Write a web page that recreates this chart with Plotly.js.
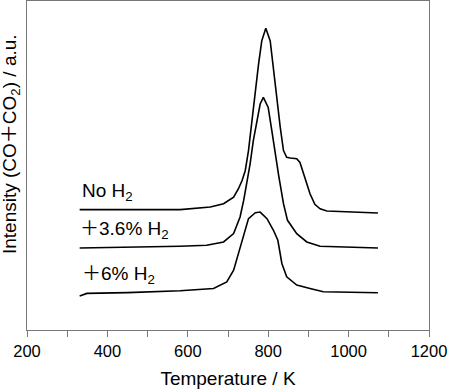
<!DOCTYPE html>
<html>
<head>
<meta charset="utf-8">
<script src="https://cdn.plot.ly/plotly-3.0.1.min.js"></script>
<style>html,body{margin:0;padding:0;background:#fff;}#chart{width:450px;height:392px;}</style>
</head>
<body>
<div id="chart"></div>
<script>
// Temperature (K) and intensity (a.u., offset stacked)
const tempNoH2 = [331, 450, 581, 656, 689, 714, 726, 735, 743, 751, 759, 768, 776, 784, 794, 805, 813, 822, 830, 838, 846, 855, 871, 879, 888, 896, 904, 916, 929, 946, 1000, 1073];
const intNoH2  = [120.7, 121, 120.7, 123.3, 126.7, 133.3, 141.7, 150, 160, 180, 210, 240, 266.7, 290, 302.7, 290, 260, 230, 203.3, 180, 173.3, 172.5, 171.7, 168, 156.7, 146.7, 136.7, 126, 121.5, 119.3, 118.5, 117.3];

const temp36 = [331, 450, 581, 647, 689, 714, 730, 739, 747, 755, 763, 772, 780, 788, 800, 809, 817, 826, 838, 848, 871, 896, 929, 1000, 1073];
const int36  = [82.3, 83, 84, 85, 88.3, 96.7, 113.3, 130, 148, 166.7, 190, 210, 226.7, 233.3, 223.3, 200, 178, 155, 126.7, 110, 96.7, 88.3, 84, 83, 82.3];

const temp6 = [331, 349, 450, 581, 664, 697, 714, 726, 739, 751, 768, 780, 797, 813, 824, 834, 846, 871, 904, 937, 1073];
const int6  = [34, 36.7, 37.5, 39.3, 41.7, 48.3, 60, 76.7, 96.7, 111.7, 117.7, 118.3, 111.7, 100, 90, 66.7, 53.3, 45, 41.7, 38.3, 37.3];

const seriesLabels = ['No H<sub>2</sub>', '＋3.6% H<sub>2</sub>', '＋6% H<sub>2</sub>'];
const labelX = [333, 326, 333];
const labelY = [138.5, 100, 55];

const xTickVals = [200, 400, 600, 800, 1000, 1200];
const xTickText = ['200', '400', '600', '800', '1000', '1200'];

const FONT = 'Liberation Sans, Arial, Noto Sans CJK JP, sans-serif';
const lineStyle = {color: '#000', width: 1.6};

const traces = [
  {x: tempNoH2, y: intNoH2, mode: 'lines', line: lineStyle, hoverinfo: 'skip'},
  {x: temp36, y: int36, mode: 'lines', line: lineStyle, hoverinfo: 'skip'},
  {x: temp6, y: int6, mode: 'lines', line: lineStyle, hoverinfo: 'skip'}
];

const annotations = seriesLabels.map((t, i) => ({
  x: labelX[i], y: labelY[i], xref: 'x', yref: 'y', text: t, showarrow: false,
  xanchor: 'left', yanchor: 'middle', font: {family: FONT, size: 19, color: '#000'}
}));
annotations.push({
  x: -0.04, y: 0.565, xref: 'paper', yref: 'paper', textangle: -90,
  text: 'Intensity (CO＋CO<sub>2</sub>) / a.u.', showarrow: false,
  xanchor: 'center', yanchor: 'middle', font: {family: FONT, size: 19, color: '#000'}
});

const layout = {
  width: 450, height: 392,
  margin: {l: 27, r: 21, t: 1, b: 62},
  paper_bgcolor: '#fff', plot_bgcolor: '#fff',
  showlegend: false,
  font: {family: FONT, size: 16.5, color: '#000'},
  xaxis: {
    range: [200, 1200], tickmode: 'array', tickvals: xTickVals, ticktext: xTickText,
    ticks: 'outside', ticklen: 6, tickcolor: '#777', tickwidth: 1,
    minor: {dtick: 100, ticks: 'outside', ticklen: 6, tickcolor: '#777', tickwidth: 1, showgrid: false},
    showline: true, linecolor: '#777', linewidth: 1.2, mirror: true,
    showgrid: false, zeroline: false,
    tickfont: {family: FONT, size: 16.5, color: '#000'},
    title: {text: 'Temperature / K', font: {family: FONT, size: 19, color: '#000'}, standoff: 12}
  },
  yaxis: {
    range: [0, 330], showticklabels: false, ticks: '',
    showline: true, linecolor: '#777', linewidth: 1.2, mirror: true,
    showgrid: false, zeroline: false
  },
  annotations: annotations
};

Plotly.newPlot('chart', traces, layout, {staticPlot: true, displayModeBar: false});
</script>
</body>
</html>
